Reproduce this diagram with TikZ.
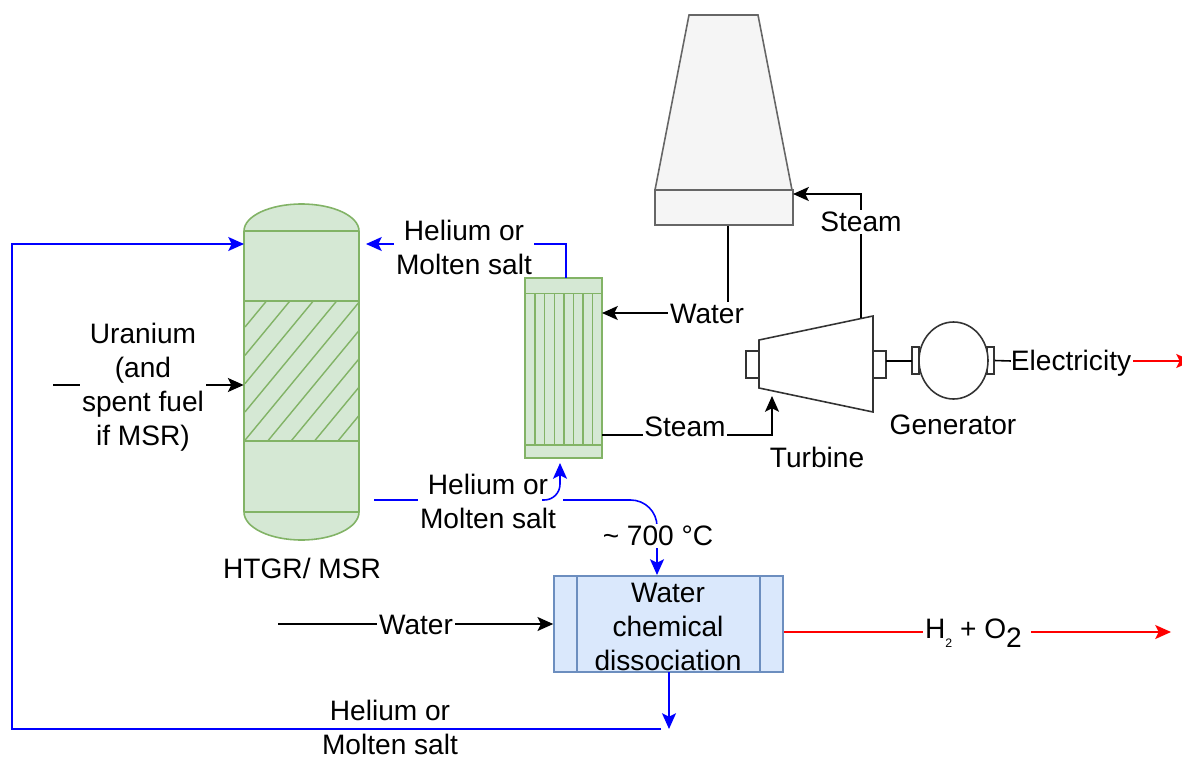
\documentclass[tikz,border=0pt]{standalone}
\usepackage{fontspec}
\setmainfont{Liberation Sans}
\usepackage{xcolor}
\usetikzlibrary{positioning,arrows.meta}
\definecolor{gFill}{HTML}{D5E8D4}
\definecolor{gLine}{HTML}{82B366}
\definecolor{bFill}{HTML}{DAE8FC}
\definecolor{bLine}{HTML}{6C8EBF}
\definecolor{dLine}{HTML}{333333}
\definecolor{tLine}{HTML}{666666}
\definecolor{tFill}{HTML}{F5F5F5}
\tikzset{
  lbl/.style={font=\fontsize{16}{19.4}\selectfont, align=center, inner sep=1pt},
  lblw/.style={lbl, fill=white},
  flow/.style={line width=0.9pt, -{Stealth[length=9pt,width=8pt,inset=2pt]}},
  plain/.style={line width=0.9pt},
  part/.style={draw=dLine, line width=0.9pt},
  gpart/.style={draw=gLine, fill=gFill, line width=0.9pt}
}
\begin{document}
\begin{tikzpicture}[x=0.02cm,y=-0.02cm]
  \useasboundingbox (0,0) rectangle (1182,757);
  % reactor
  \fill[gFill] (244,231) arc[start angle=180,end angle=0,x radius=57.5,y radius=-27] -- (359,512) arc[start angle=0,end angle=-180,x radius=57.5,y radius=-28] -- cycle;
  \draw[gLine, line width=0.9pt] (244,231) arc[start angle=180,end angle=0,x radius=57.5,y radius=-27] -- (359,512) arc[start angle=0,end angle=-180,x radius=57.5,y radius=-28] -- cycle;
  \node[minimum width=2.3cm, minimum height=5.62cm, inner sep=0pt] (reactor) at (301.5,371.5) {};
  \foreach \y in {231,301,441,512} \draw[gLine, line width=0.9pt] (244,\y) -- (359,\y);
  \begin{scope}
    \clip (244,301) rectangle (359,441);
    \foreach \k in {0,...,8} \draw[gLine, line width=0.8pt] (245,{327+28.3*\k}) -- (445,{327+28.3*\k-242});
  \end{scope}
  % heat exchanger
  \node[gpart, minimum width=1.54cm, minimum height=3.6cm, inner sep=0pt] (hx) at (563.5,368) {};
  \foreach \y in {293.5,445} \draw[gLine, line width=0.9pt] (525,\y) -- (602,\y);
  \foreach \x in {535,544.6,554.2,563.8,573.4,583,592.6} \draw[gLine, line width=0.8pt] (\x,293.5) -- (\x,445);
  % cooling tower
  \draw[draw=tLine, line width=0.9pt, fill=tFill] (689,15) -- (758,15) -- (792,190) -- (655,190) -- cycle;
  \node[draw=tLine, line width=0.9pt, fill=tFill, minimum width=2.76cm, minimum height=0.7cm, inner sep=0pt] (base) at (724,207.5) {};
  % turbine and generator
  \node[part, minimum width=0.26cm, minimum height=0.54cm, inner sep=0pt] (shaftL) at (752.5,364.5) {};
  \node[part, minimum width=0.26cm, minimum height=0.54cm, inner sep=0pt] (shaftR) at (879.5,364.5) {};
  \draw[part, fill=white] (759,340) -- (873,316) -- (873,412) -- (759,388) -- cycle;
  \coordinate (turbTop) at (861,318);
  \coordinate (turbIn) at (772,396);
  \node[part, minimum width=0.14cm, minimum height=0.54cm, inner sep=0pt] (capL) at (915.5,360.5) {};
  \node[part, minimum width=0.14cm, minimum height=0.54cm, inner sep=0pt] (capR) at (990.5,360.5) {};
  \draw[part, fill=white] (953.5,360.5) ellipse[x radius=34.5, y radius=38.5];
  \coordinate (shaftOut) at (886,361);
  \coordinate (capIn) at (912,361);
  \draw[plain] (shaftOut) -- (capIn);
  % dissociation unit
  \node[draw=bLine, fill=bFill, line width=0.9pt, minimum width=4.58cm, minimum height=1.92cm, inner sep=0pt] (diss) at (668.5,624) {};
  \foreach \x in {577,760} \draw[bLine, line width=0.9pt] (\x,576) -- (\x,672);
  % free ends
  \coordinate (uIn) at (53,385);
  \coordinate (wIn) at (278,624);
  \coordinate (hxTop) at (566,278);
  \coordinate (rTop) at (366,244);
  \coordinate (rTopL) at (244,244);
  \coordinate (rOut) at (374,500);
  \coordinate (gapL) at (542,500);
  \coordinate (gapR) at (563,500);
  \coordinate (hxIn) at (560,463);
  \coordinate (dIn) at (657,575);
  \coordinate (dOut) at (669,672);
  \coordinate (dEnd) at (669,729);
  \coordinate (back) at (661,729);
  \coordinate (redEnd) at (1171,632);
  % connectors
  \draw[flow] (uIn) -- (uIn -| reactor.west);
  \draw[flow] (wIn) -- (wIn -| diss.west);
  \draw[flow] (base.south -| 728,0) -- (728,313) -- (602,313);
  \draw[flow] (turbTop) -- (861,194) -- (793,194);
  \draw[flow] (602,435) -- (772,435) -- (turbIn);
  \draw[flow, blue] (hxTop) -- (566,244) -- (rTop);
  \draw[flow, blue] (back) -- (12,729) -- (12,244) -- (rTopL);
  \draw[flow, blue] (dOut) -- (dEnd);
  \draw[plain, blue] (rOut) -- (gapL);
  \draw[flow, blue, rounded corners=15pt] (gapR) -- (657,500) -- (dIn);
  \draw[flow, red] (diss.east |- redEnd) -- (redEnd);
  \draw[flow, red] (1133,361) -- (1192,361);
  \draw[plain] (capR.east) -- (1011,361);
  % labels
  \node[lblw] (uran) at (143,387) {Uranium\\(and\\spent fuel\\if MSR)};
  \node[lbl] (rname) at (302,568) {HTGR/ MSR};
  \node[lblw] (heTop) at (464,247) {Helium or\\Molten salt};
  \node[lblw] (heMid) at (488,501) {Helium or\\Molten salt};
  \node[lbl] (heBot) at (390,727) {Helium or\\Molten salt};
  \node[lblw] (temp) at (658,536) {\textasciitilde{} 700 °C};
  \node[lblw] (wTop) at (707,314) {Water};
  \node[lblw] (wLow) at (416,625) {Water};
  \node[lblw] (stTop) at (861,222) {Steam};
  \node[lblw] (stLow) at (685,427) {Steam};
  \node[lbl] (turb) at (817,457) {Turbine};
  \node[lbl] (gen) at (953,425) {Generator};
  \node[lblw, inner sep=0pt] (elec) at (1071,363) {Electricity};
  \node[lbl] (dissText) at (668,627) {Water\\chemical\\dissociation};
  \node[lblw, anchor=west, inner sep=0pt] (prod) at (923,633) {\kern1pt H{\fontsize{7}{8}\selectfont\raisebox{-5pt}{2}} + O\raisebox{-5pt}{2}\kern5pt};
  % branch up to the exchanger runs over the label
  \draw[flow, blue, rounded corners=9pt] (gapL) -- (560,500) -- (hxIn);
\end{tikzpicture}
\end{document}
